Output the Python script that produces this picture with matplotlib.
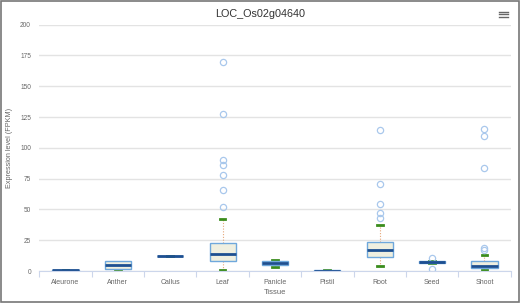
import matplotlib.pyplot as plt
from matplotlib.lines import Line2D
from matplotlib.patches import Rectangle

plt.rcParams['font.family'] = ['Liberation Sans', 'DejaVu Sans']

tissues = ['Aleurone', 'Anther', 'Callus', 'Leaf', 'Panicle', 'Pistil', 'Root', 'Seed', 'Shoot']
low = [0.2, 0.3, 12.2, 1.2, 3.5, 0.3, 4.3, 6.8, 1.0]
q1 = [0.3, 1.4, 12.2, 8.1, 5.1, 0.3, 11.6, 6.5, 2.7]
med = [0.5, 4.9, 12.2, 13.8, 6.7, 0.4, 17.0, 7.3, 4.0]
q3 = [0.8, 8.1, 12.2, 22.5, 8.4, 0.5, 23.3, 8.1, 7.9]
high = [1.2, 7.0, 12.2, 42.5, 8.8, 0.5, 37.0, 7.8, 13.2]
outliers = [
    [],
    [],
    [],
    [170.0, 127.4, 90.3, 85.8, 77.7, 65.7, 51.9],
    [],
    [],
    [114.5, 70.9, 54.4, 46.8, 43.0],
    [10.3, 1.6],
    [115.2, 109.3, 83.6, 18.7, 17.0],
]
yticks = [0, 25, 50, 75, 100, 125, 150, 175, 200]

stats = []
for i, t in enumerate(tissues):
    stats.append({'label': t, 'whislo': low[i], 'q1': q1[i], 'med': med[i],
                  'q3': q3[i], 'whishi': high[i], 'fliers': outliers[i]})

fig = plt.figure(figsize=(5.2, 3.03), dpi=100)
ax = fig.add_axes([0.0756, 0.1056, 0.9064, 0.813])

pos = list(range(len(tissues)))
parts = ax.bxp(stats, positions=pos, widths=0.5, patch_artist=True, capwidths=0.11,
               boxprops=dict(facecolor='#efefe0', edgecolor='#6fa8dc', linewidth=1.0),
               medianprops=dict(color='#1d4f91', linewidth=2.0),
               whiskerprops=dict(color='#e6a77a', linewidth=0.8, linestyle=(0, (1, 1.5))),
               capprops=dict(color='#3a8c1c', linewidth=2.0),
               flierprops=dict(marker='o', markersize=4.5, markerfacecolor='none',
                               markeredgecolor='#a9c8ec', markeredgewidth=0.9),
               zorder=3)
for b in parts['boxes']:
    b.set_zorder(3.5)
for m in parts['medians']:
    m.set_zorder(3.6)

ax.set_xlim(-0.5, len(tissues) - 0.5)
ax.set_ylim(0, 200)
ax.set_yticks(yticks)
ax.set_xticks(pos)
ax.set_xticklabels(tissues)
ax.set_xticks([p + 0.5 for p in pos[:-1]] + [-0.5, len(tissues) - 0.5], minor=True)
ax.tick_params(axis='x', which='major', length=0, labelsize=5, labelcolor='#666666', pad=6)
ax.tick_params(axis='x', which='minor', length=4, color='#ccd6eb', width=0.8)
ax.tick_params(axis='y', length=0, labelsize=4.7, labelcolor='#666666', pad=6)
ax.yaxis.grid(True, color='#e3e3e3', linewidth=1.0, zorder=0)
ax.set_axisbelow(True)
for s in ['top', 'right', 'left']:
    ax.spines[s].set_visible(False)
ax.spines['bottom'].set_color('#ccd6eb')
ax.spines['bottom'].set_linewidth(0.8)
ax.spines['bottom'].set_zorder(4)

ax.set_xlabel('Tissue', fontsize=5.5, color='#666666', labelpad=2)
ax.set_ylabel('Expression level (FPKM)', fontsize=5.2, color='#666666')
ax.yaxis.set_label_coords(-0.056, 0.5)
fig.text(0.5, 0.955, 'LOC_Os02g04640', ha='center', va='center', fontsize=7.8, color='#333333')

# menu icon
for k in range(3):
    yy = 1 - (11.5 + k * 2.5) / 303
    fig.add_artist(Line2D([499 / 520, 508 / 520], [yy, yy], color='#666666', linewidth=1.0))

fig.add_artist(Rectangle((0.001, 0.002), 0.997, 0.996, transform=fig.transFigure,
                         fill=False, edgecolor='#777777', linewidth=1.2))

fig.savefig('out.png', dpi=100)
